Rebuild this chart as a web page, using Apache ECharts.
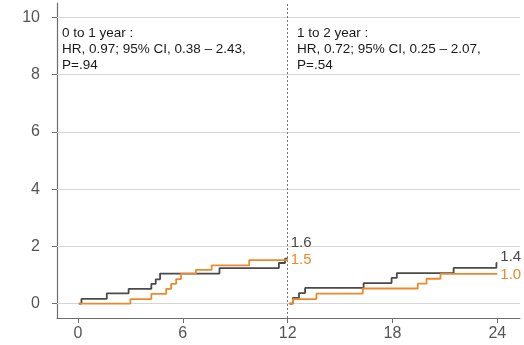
<!DOCTYPE html>
<html>
<head>
<meta charset="utf-8">
<script src="https://cdn.jsdelivr.net/npm/echarts@6/dist/echarts.min.js"></script>
<style>
html,body{margin:0;padding:0;background:#fff;}
#chart{width:524px;height:345px;}
</style>
</head>
<body>
<div id="chart"></div>
<script>
// ---- data ----
var yTicks = [0, 2, 4, 6, 8, 10];
var xTicks = [0, 6, 12, 18, 24];
var landmark = 12;

// 0 to 1 year (months / cumulative %)
var darkY1Times  = [0.05, 0.2, 1.65, 2.9, 4.2, 4.45, 4.7, 8.1, 11.5, 11.85, 12];
var darkY1Values = [0, 0.17, 0.36, 0.52, 0.69, 0.85, 1.05, 1.24, 1.42, 1.57, 1.57];
var orangeY1Times  = [0.05, 3.0, 4.2, 5.05, 5.33, 5.62, 5.9, 6.75, 7.65, 9.8, 12];
var orangeY1Values = [0, 0.16, 0.34, 0.52, 0.69, 0.86, 1.05, 1.18, 1.34, 1.52, 1.52];

// 1 to 2 year
var darkY2Times  = [12.1, 12.3, 12.65, 13.0, 16.35, 17.95, 18.25, 21.5, 23.95, 24];
var darkY2Values = [0, 0.2, 0.37, 0.55, 0.72, 0.9, 1.07, 1.25, 1.42, 1.42];
var orangeY2Times  = [12.1, 12.3, 13.65, 16.3, 19.45, 19.95, 20.75, 24];
var orangeY2Values = [0, 0.16, 0.35, 0.53, 0.7, 0.87, 1.04, 1.04];

var note1 = ['0 to 1 year :', 'HR, 0.97; 95% CI, 0.38 \u2013 2.43,', 'P=.94'];
var note2 = ['1 to 2 year :', 'HR, 0.72; 95% CI, 0.25 \u2013 2.07,', 'P=.54'];

// ---- build ----
function zip(t, v) { return t.map(function (x, i) { return [x, v[i]]; }); }

var DARK = '#4a4a4a';
var ORANGE = '#e98b2c';
var FONT = 'Liberation Sans, Arial, sans-serif';

function curve(data, color, labelOffset) {
  return {
    type: 'line',
    step: 'end',
    data: data,
    showSymbol: false,
    symbol: 'none',
    z: 5,
    lineStyle: { color: color, width: 1.8 },
    itemStyle: { color: color },
    silent: true,
    endLabel: {
      show: true,
      formatter: function (p) { return p.value[1].toFixed(1); },
      color: color,
      fontSize: 15,
      fontFamily: FONT,
      distance: 3,
      offset: labelOffset
    }
  };
}

var chart = echarts.init(document.getElementById('chart'), null, { renderer: 'canvas' });
chart.setOption({
  animation: false,
  backgroundColor: '#ffffff',
  grid: { left: 57, right: 4, top: 3, bottom: 27, containLabel: false },
  xAxis: {
    type: 'value',
    min: -1.2,
    max: 25.3,
    axisLine: { show: true, onZero: false, lineStyle: { color: '#6e6e6e', width: 1.2 } },
    axisTick: { show: true, length: 5, customValues: xTicks, lineStyle: { color: '#6e6e6e' } },
    axisLabel: { customValues: xTicks, margin: 8, fontSize: 16, color: '#555', fontFamily: FONT },
    splitLine: { show: false }
  },
  yAxis: {
    type: 'value',
    min: -0.5,
    max: 10.5,
    axisLine: { show: true, onZero: false, lineStyle: { color: '#6e6e6e', width: 1.2 } },
    axisTick: { show: true, length: 5, customValues: yTicks, lineStyle: { color: '#6e6e6e' } },
    axisLabel: { customValues: yTicks, margin: 17, fontSize: 16, color: '#555', fontFamily: FONT },
    splitLine: { show: false }
  },
  series: [
    {
      type: 'line',
      data: [],
      z: 1,
      silent: true,
      markLine: {
        silent: true,
        symbol: ['none', 'none'],
        label: { show: false },
        lineStyle: { color: '#d6d6d6', width: 1, type: 'solid' },
        data: yTicks.map(function (v) { return { yAxis: v }; })
      }
    },
    {
      type: 'line',
      data: [],
      z: 2,
      silent: true,
      markLine: {
        silent: true,
        symbol: ['none', 'none'],
        label: { show: false },
        lineStyle: { color: '#777', width: 1, type: [2, 2] },
        data: [{ xAxis: landmark }]
      }
    },
    curve(zip(darkY1Times, darkY1Values), DARK, [0, -16]),
    curve(zip(orangeY1Times, orangeY1Values), ORANGE, [0, 0]),
    curve(zip(darkY2Times, darkY2Values), DARK, [0, -6]),
    curve(zip(orangeY2Times, orangeY2Values), ORANGE, [0, 1])
  ],
  graphic: [
    {
      type: 'text', left: 62, top: 25, silent: true,
      style: { text: note1.join('\n'), fontSize: 13.5, lineHeight: 16, fill: '#1a1a1a', fontFamily: FONT }
    },
    {
      type: 'text', left: 297, top: 25, silent: true,
      style: { text: note2.join('\n'), fontSize: 13.5, lineHeight: 16, fill: '#1a1a1a', fontFamily: FONT }
    }
  ]
});
</script>
</body>
</html>
